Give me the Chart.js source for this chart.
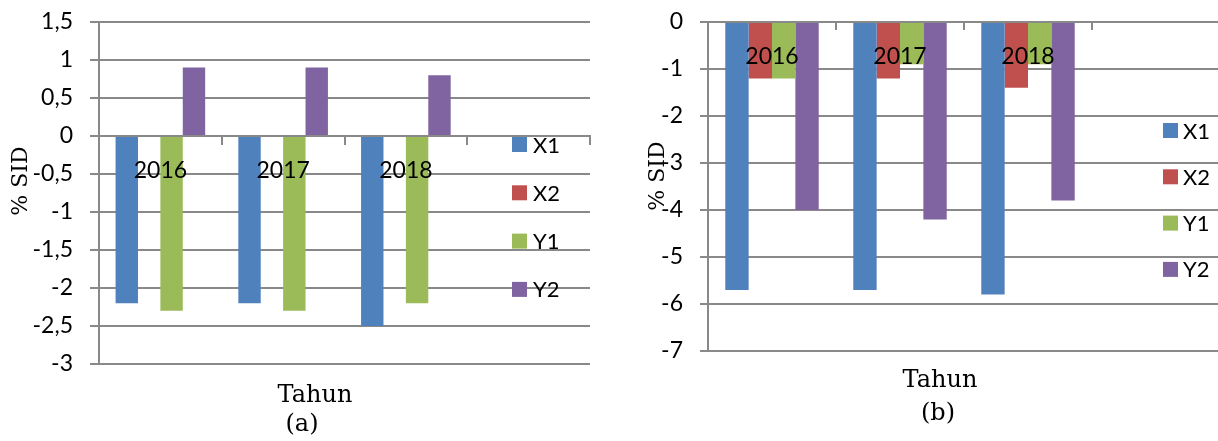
<!DOCTYPE html>
<html>
<head>
<meta charset="utf-8">
<script src="https://cdn.jsdelivr.net/npm/chart.js@4.4.1/dist/chart.umd.min.js"></script>
<style>
  html, body { margin: 0; padding: 0; background: #fff; overflow: hidden; }
  #wrap { position: relative; width: 1218px; height: 441px; overflow: hidden; }
  #cA { position: absolute; left: 0; top: 0; }
  #cB { position: absolute; left: 600px; top: 0; }
</style>
</head>
<body>
<div id="wrap">
  <canvas id="cA" width="600" height="441"></canvas>
  <canvas id="cB" width="620" height="441"></canvas>
</div>
<script>
// ---- data ----
const categories = ['2016', '2017', '2018', ''];
const seriesNames = ['X1', 'X2', 'Y1', 'Y2'];
const seriesColors = ['#4F81BD', '#C0504D', '#9BBB59', '#8064A2'];

// chart (a)
const aX1 = [-2.2, -2.2, -2.5, null];
const aX2 = [0, 0, 0, null];
const aY1 = [-2.3, -2.3, -2.2, null];
const aY2 = [0.9, 0.9, 0.8, null];
const yTickLabelsA = ['-3', '-2,5', '-2', '-1,5', '-1', '-0,5', '0', '0,5', '1', '1,5'];

// chart (b)
const bX1 = [-5.7, -5.7, -5.8, null];
const bX2 = [-1.2, -1.2, -1.4, null];
const bY1 = [-1.2, -0.9, -0.9, null];
const bY2 = [-4.0, -4.2, -3.8, null];
const yTickLabelsB = ['-7', '-6', '-5', '-4', '-3', '-2', '-1', '0'];

const GRID = '#898989';
const TICKFONT = 'Lato, "Open Sans", sans-serif';
const SERIF = '"DejaVu Serif", "Liberation Serif", serif';

// legend drawn over the plot area
const sideLegend = {
  id: 'sideLegend',
  afterDraw(chart, args, opts) {
    const ctx = chart.ctx;
    ctx.save();
    ctx.font = opts.font;
    ctx.textBaseline = 'middle';
    ctx.textAlign = 'left';
    chart.data.datasets.forEach((ds, i) => {
      const cy = opts.y0 + i * opts.dy;
      ctx.fillStyle = ds.backgroundColor;
      ctx.fillRect(opts.x, cy - opts.box / 2, opts.box, opts.box);
      ctx.fillStyle = '#000';
      ctx.fillText(ds.label, opts.x + opts.box + opts.gap, cy + 1);
    });
    ctx.restore();
  }
};

// free text (axis titles, captions)
const freeTexts = {
  id: 'freeTexts',
  afterDraw(chart, args, opts) {
    const ctx = chart.ctx;
    (opts.items || []).forEach(t => {
      ctx.save();
      ctx.font = t.font;
      ctx.fillStyle = '#000';
      ctx.textAlign = 'center';
      ctx.textBaseline = t.baseline || 'alphabetic';
      ctx.translate(t.x, t.y);
      if (t.rotate) ctx.rotate(t.rotate);
      ctx.fillText(t.text, 0, 0);
      ctx.restore();
    });
  }
};

function makeDatasets(arrs) {
  return arrs.map((d, i) => ({
    label: seriesNames[i],
    data: d,
    backgroundColor: seriesColors[i],
    borderWidth: 0,
    categoryPercentage: 0.73,
    barPercentage: 1.0
  }));
}

function makeChart(canvasId, cfg) {
  return new Chart(document.getElementById(canvasId), {
    type: 'bar',
    data: { labels: categories, datasets: makeDatasets(cfg.series) },
    plugins: [sideLegend, freeTexts],
    options: {
      responsive: false,
      animation: false,
      devicePixelRatio: 1,
      layout: { padding: cfg.padding },
      plugins: {
        legend: { display: false },
        tooltip: { enabled: false },
        sideLegend: cfg.legend,
        freeTexts: { items: cfg.texts }
      },
      scales: {
        x: {
          type: 'category',
          position: { y: 0 },
          grid: {
            display: true, drawOnChartArea: false, drawTicks: true,
            tickLength: cfg.xTickLen, color: GRID, lineWidth: 2, offset: true
          },
          border: { display: true, color: GRID, width: 2 },
          ticks: {
            z: 1,
            color: '#000', padding: cfg.xPad, maxRotation: 0, autoSkip: false,
            font: { family: TICKFONT, size: 23 }
          }
        },
        y: {
          min: cfg.min, max: cfg.max,
          afterFit: s => { s.width = cfg.yWidth; s.paddingTop = 0; s.paddingBottom = 0; },
          grid: { color: GRID, lineWidth: 2, tickLength: cfg.yTickLen, drawTicks: true },
          border: { display: true, color: GRID, width: 2 },
          ticks: {
            stepSize: cfg.step, color: '#000', padding: cfg.yPad,
            font: { family: TICKFONT, size: 23 },
            callback: (v, i) => cfg.tickLabels[i]
          }
        }
      }
    }
  });
}

makeChart('cA', {
  series: [aX1, aX2, aY1, aY2],
  min: -3, max: 1.5, step: 0.5, tickLabels: yTickLabelsA,
  padding: { top: 22, bottom: 77, left: 0, right: 10 },
  yWidth: 99, yTickLen: 9, yPad: 17, xTickLen: 8, xPad: 13,
  legend: { x: 512, y0: 144.5, dy: 48.3, box: 15, gap: 6, font: '22px ' + TICKFONT },
  texts: [
    { text: '% SID', x: 21, y: 181, rotate: -Math.PI / 2, baseline: 'middle', font: '22px ' + SERIF },
    { text: 'Tahun', x: 315, y: 402, font: '24px ' + SERIF },
    { text: '(a)', x: 302, y: 431, font: '24px ' + SERIF }
  ]
});

makeChart('cB', {
  series: [bX1, bX2, bY1, bY2],
  min: -7, max: 0, step: 1, tickLabels: yTickLabelsB,
  padding: { top: 22, bottom: 90, left: 0, right: 0 },
  yWidth: 108, yTickLen: 8, yPad: 17, xTickLen: 7, xPad: 14,
  legend: { x: 563, y0: 130.5, dy: 46.3, box: 15, gap: 5, font: '22px ' + TICKFONT },
  texts: [
    { text: '% SID', x: 58, y: 176, rotate: -Math.PI / 2, baseline: 'middle', font: '22px ' + SERIF },
    { text: 'Tahun', x: 340, y: 387, font: '24px ' + SERIF },
    { text: '(b)', x: 338, y: 420, font: '24px ' + SERIF }
  ]
});
</script>
</body>
</html>
